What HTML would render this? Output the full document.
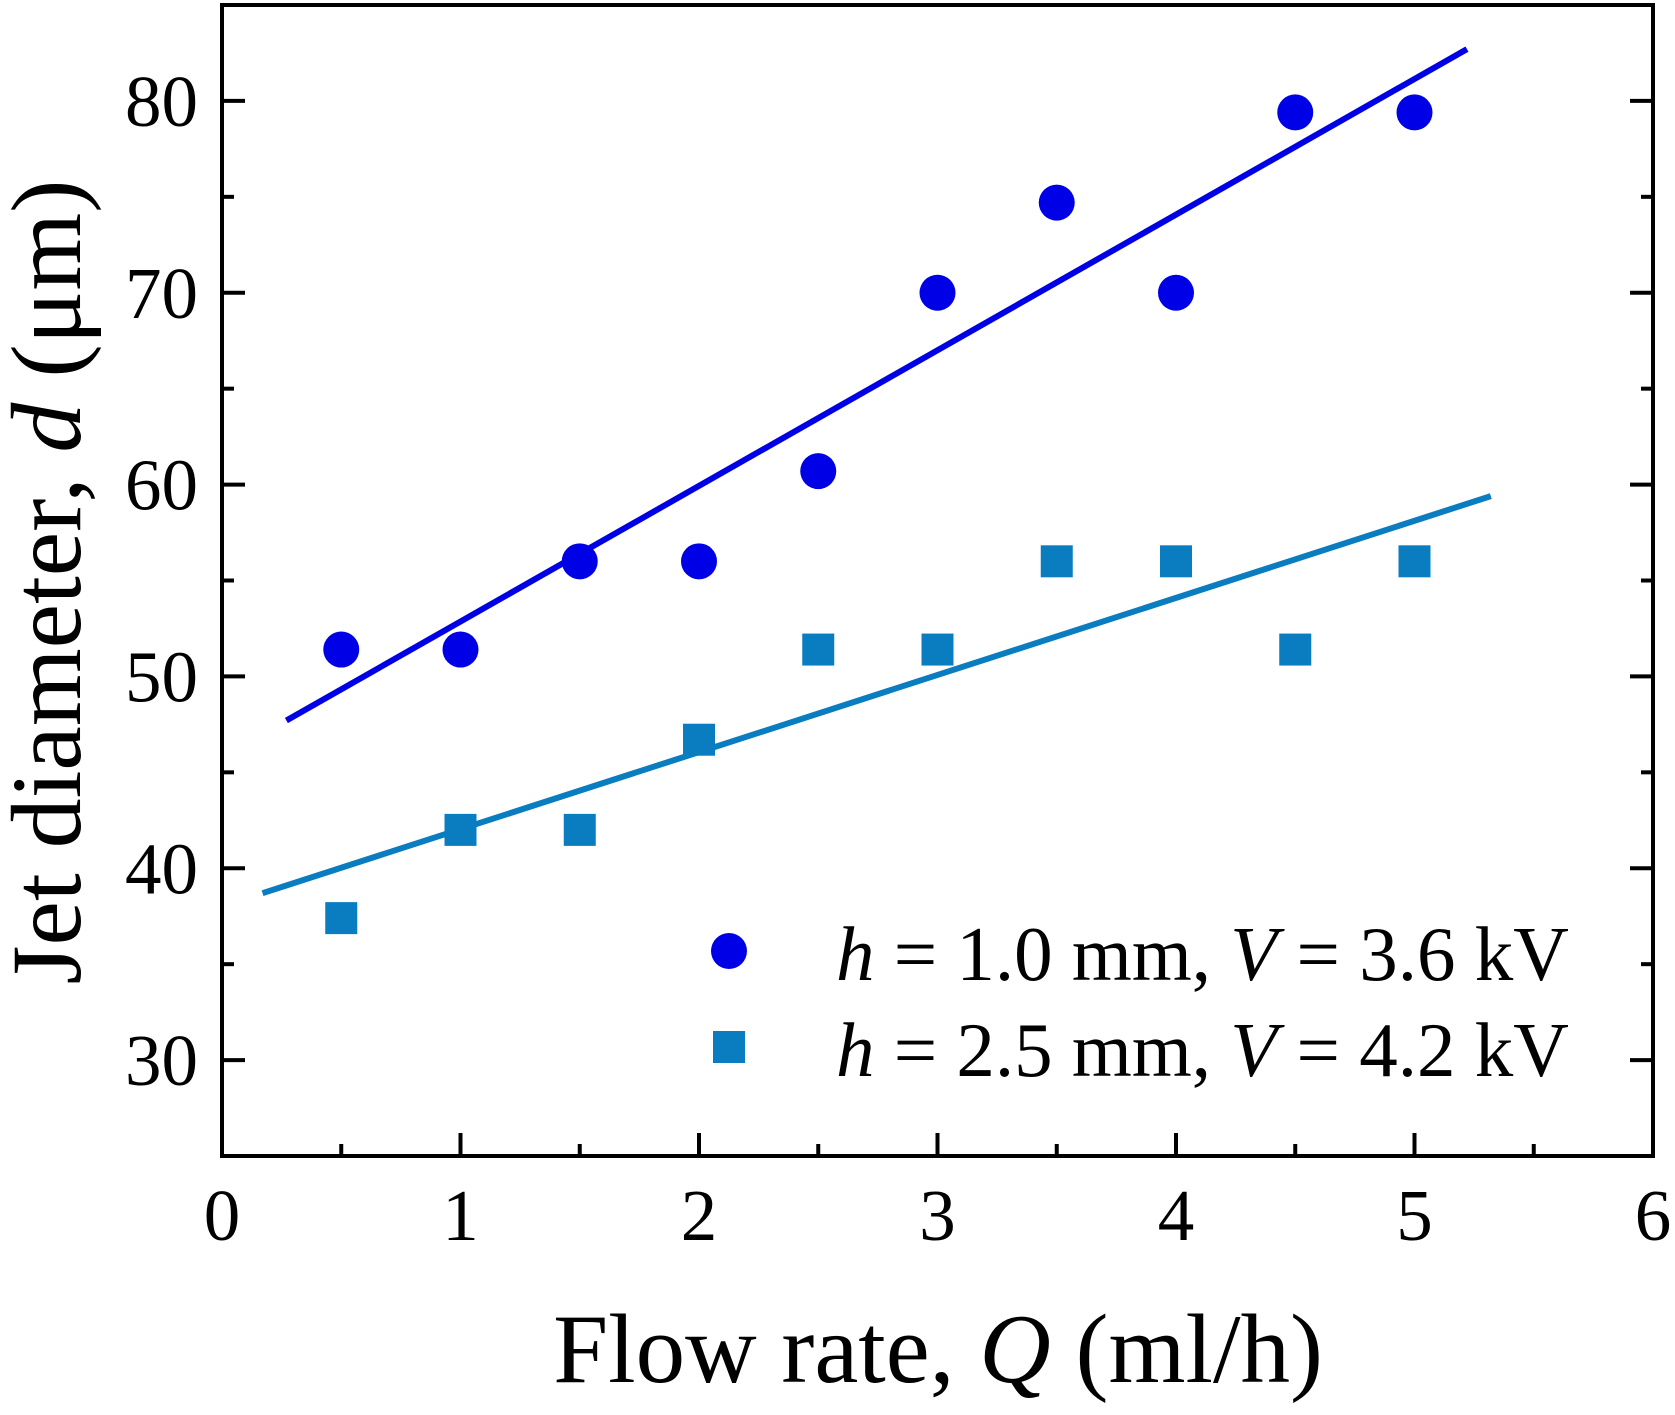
<!DOCTYPE html>
<html><head><meta charset="utf-8"><style>
html,body{margin:0;padding:0;background:#fff;}
svg text{font-family:"Liberation Serif",serif;fill:#000;}
</style></head><body>
<svg id="chart" width="1675" height="1410" viewBox="0 0 1675 1410" xmlns="http://www.w3.org/2000/svg">
<g id="grid"></g>
<g id="marks"></g>
<rect x="222" y="5" width="1431" height="1151" fill="none" stroke="#000" stroke-width="4"/>
<text x="938" y="1382" font-size="99" text-anchor="middle">Flow rate, <tspan font-style="italic">Q</tspan> (ml/h)</text>
<text transform="translate(80,582) rotate(-90)" font-size="100" text-anchor="middle">Jet diameter, <tspan font-style="italic">d</tspan> (μm)</text>
<g>
<circle cx="729" cy="951" r="18" fill="#0000e6"/>
<text x="836" y="980" font-size="77"><tspan font-style="italic">h</tspan> = 1.0 mm, <tspan font-style="italic">V</tspan> = 3.6 kV</text>
<rect x="713" y="1031" width="32" height="32" fill="#0a7dc0"/>
<text x="836" y="1076" font-size="77"><tspan font-style="italic">h</tspan> = 2.5 mm, <tspan font-style="italic">V</tspan> = 4.2 kV</text>
</g>
</svg>
<script>
const xValues=[0.5,1,1.5,2,2.5,3,3.5,4,4.5,5];
const seriesCircle=[51.4,51.4,56,56,60.7,70,74.7,70,79.4,79.4];
const seriesSquare=[37.4,42,42,46.7,51.4,51.4,56,56,51.4,56];
const fitCircle=[[0.27,47.7],[5.22,82.7]];
const fitSquare=[[0.17,38.7],[5.32,59.4]];
const xTicks=[0,1,2,3,4,5,6];
const yTicks=[30,40,50,60,70,80];
const NS='http://www.w3.org/2000/svg';
const X0=222,X1=1653,Y0=1156,Y1=5,xmin=0,xmax=6,ymin=25,ymax=85;
function sx(v){return X0+(v-xmin)/(xmax-xmin)*(X1-X0);}
function sy(v){return Y0-(v-ymin)/(ymax-ymin)*(Y0-Y1);}
function mk(t,a,p){const e=document.createElementNS(NS,t);for(const k in a)e.setAttribute(k,a[k]);p.appendChild(e);return e;}
const g=document.getElementById('grid'),m=document.getElementById('marks');
for(let v=0;v<=6;v+=0.5){const maj=Number.isInteger(v);const L=maj?23:12;
 const t=mk('line',{x1:sx(v),x2:sx(v),y1:Y0,y2:Y0-L,stroke:'#000','stroke-width':4},g);
 
 }
xTicks.forEach(v=>{const t=mk('text',{x:sx(v),y:1240,'font-size':73,'text-anchor':'middle'},g);t.textContent=v;
 
 });
for(let v=25;v<=85;v+=5){const maj=v%10===0;const L=maj?23:12;
 const a=mk('line',{x1:X0,x2:X0+L,y1:sy(v),y2:sy(v),stroke:'#000','stroke-width':4},g);
 
 
 const b=mk('line',{x1:X1,x2:X1-L,y1:sy(v),y2:sy(v),stroke:'#000','stroke-width':4},g);
 
 }
yTicks.forEach(v=>{const t=mk('text',{x:198,y:sy(v)+25,'font-size':73,'text-anchor':'end'},g);t.textContent=v;
 
 });
const l1=mk('line',{x1:sx(fitCircle[0][0]),y1:sy(fitCircle[0][1]),x2:sx(fitCircle[1][0]),y2:sy(fitCircle[1][1]),stroke:'#0000e6','stroke-width':6},m);


const l2=mk('line',{x1:sx(fitSquare[0][0]),y1:sy(fitSquare[0][1]),x2:sx(fitSquare[1][0]),y2:sy(fitSquare[1][1]),stroke:'#0a7dc0','stroke-width':6},m);


xValues.forEach((x,i)=>{
 const c=mk('circle',{cx:sx(x),cy:sy(seriesCircle[i]),r:18,fill:'#0000e6'},m);
 
 
 const s=mk('rect',{x:sx(x)-16,y:sy(seriesSquare[i])-16,width:32,height:32,fill:'#0a7dc0'},m);
 
 
});
</script>
</body></html>
